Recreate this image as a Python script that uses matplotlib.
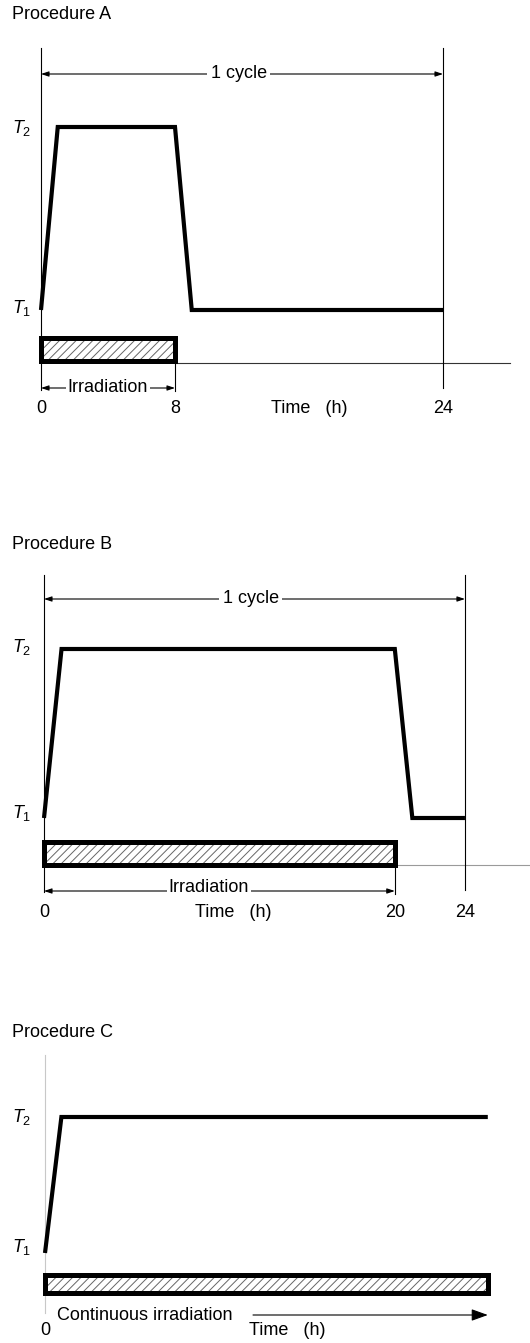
import matplotlib
matplotlib.use("Agg")
import matplotlib.pyplot as plt
from matplotlib.patches import Rectangle

plt.rcParams["font.family"] = ["Liberation Sans", "DejaVu Sans"]
plt.rcParams["mathtext.fontset"] = "custom"
plt.rcParams["mathtext.rm"] = "Liberation Sans"
plt.rcParams["mathtext.it"] = "Liberation Sans:italic"
plt.rcParams["hatch.linewidth"] = 0.7

# ---------- data ----------
T_LEVELS = [1, 2]                      # T1, T2
T_NAMES = [r"$T_{\mathrm{1}}$", r"$T_{\mathrm{2}}$"]
CYCLE_H = 24

TIME_A = [0, 1, 8, 9, 24]
TEMP_A = [1, 2, 2, 1, 1]
IRR_A = [0, 8]
TICKS_A = [0, 8, 24]

TIME_B = [0, 1, 20, 21, 24]
TEMP_B = [1, 2, 2, 1, 1]
IRR_B = [0, 20]
TICKS_B = [0, 20, 24]

TIME_C = [0, 1, 27]
TEMP_C = [1, 2, 2]
IRR_C = [0, 27]
TICKS_C = [0]

# ---------- figure ----------
W, H, DPI = 530, 1343, 100
FS = 13
THICK = 3.0
BAR_LW = 3.6
THIN = 0.8
HATCH_GRAY = "#666666"

fig = plt.figure(figsize=(W / DPI, H / DPI), dpi=DPI)
fig.patch.set_facecolor("white")


def setup(x0, ppx, y_t1, y_t2):
    """Full-figure transparent axes: x in hours, y in temperature levels."""
    ax = fig.add_axes([0, 0, 1, 1])
    ax.set_axis_off()
    ax.patch.set_alpha(0)
    s = y_t1 - y_t2
    ax.set_xlim(-x0 / ppx, (W - x0) / ppx)
    ax.set_ylim(1 - (H - y_t1) / s, 1 + y_t1 / s)
    px = lambda p: (p - x0) / ppx
    py = lambda p: 1 + (y_t1 - p) / s
    return ax, px, py


def small_arrow(ax, x1, x2, y, both=True):
    style = "<|-|>" if both else "-|>"
    ax.annotate("", xy=(x2, y), xytext=(x1, y),
                arrowprops=dict(arrowstyle=f"{style},head_length=0.45,head_width=0.15",
                                lw=THIN, color="black", shrinkA=0, shrinkB=0,
                                mutation_scale=10))


def bar(ax, x1, x2, y_top, y_bot):
    ax.add_patch(Rectangle((x1, y_bot), x2 - x1, y_top - y_bot, facecolor="white",
                           edgecolor=HATCH_GRAY, hatch="////", linewidth=0, zorder=2))
    ax.add_patch(Rectangle((x1, y_bot), x2 - x1, y_top - y_bot, fill=False,
                           edgecolor="black", linewidth=BAR_LW, joinstyle="miter", zorder=3))


def t_labels(ax, px, py, base_y):
    for name, yb in zip(T_NAMES, base_y):
        ax.text(px(12), py(yb), name, fontsize=FS, ha="left", va="baseline")


def cycle_panel(title, times, temps, irr, ticks, x0, ppx, y_t1, y_t2, lay):
    ax, px, py = setup(x0, ppx, y_t1, y_t2)
    ax.text(px(12), py(lay["title"]), title, fontsize=FS, va="baseline")

    # frame lines at 0 and 24 h
    ax.plot([0, 0], [py(lay["top"]), py(lay["left_bot"])], color="black", lw=THIN)
    ax.plot([CYCLE_H, CYCLE_H], [py(lay["top"]), py(lay["right_bot"])], color="black", lw=THIN)

    # 1 cycle
    small_arrow(ax, 0, CYCLE_H, py(lay["cyc"]))
    ax.text(CYCLE_H / 2 - 0.2, py(lay["cyc"] + 4), "1 cycle", fontsize=FS, ha="center",
            va="baseline", bbox=dict(facecolor="white", edgecolor="none", pad=2.5))

    # temperature profile
    ax.plot(times, temps, color="black", lw=THICK, solid_joinstyle="miter",
            solid_capstyle="butt", zorder=4)
    t_labels(ax, px, py, lay["tlab"])

    # irradiation bar and baseline
    bar(ax, irr[0], irr[1], py(lay["bar"][0]), py(lay["bar"][1]))
    ax.plot([irr[1], px(lay["base_end"])], [py(lay["base"]), py(lay["base"])],
            color=lay["base_color"], lw=THIN, zorder=1)
    ax.plot([irr[1], irr[1]], [py(lay["base"]), py(lay["irr"] + 3)], color="black", lw=THIN)
    small_arrow(ax, irr[0], irr[1], py(lay["irr"]))
    ax.text(lay["irr_text_at"], py(lay["irr"] + lay["irr_off"]), "Irradiation", fontsize=FS,
            ha="center", va="baseline",
            bbox=dict(facecolor="white", edgecolor="none", pad=1.5))

    # time axis labels
    for t in ticks:
        ax.text(t, py(lay["ticks"]), str(t), fontsize=FS, ha="center", va="baseline")
    ax.text(lay["time_at"], py(lay["ticks"]), "Time   (h)", fontsize=FS,
            ha="center", va="baseline")


cycle_panel("Procedure A", TIME_A, TEMP_A, IRR_A, TICKS_A,
            x0=41, ppx=16.75, y_t1=310, y_t2=127,
            lay=dict(title=19, top=48, left_bot=390, right_bot=388, cyc=74,
                     tlab=[313, 133], bar=[338, 361], base=363, base_end=510,
                     base_color="#333333", irr=388, irr_off=4, irr_text_at=4.0,
                     ticks=413, time_at=16.0))

cycle_panel("Procedure B", TIME_B, TEMP_B, IRR_B, TICKS_B,
            x0=44, ppx=17.54, y_t1=818, y_t2=649,
            lay=dict(title=549, top=575, left_bot=892, right_bot=890, cyc=599,
                     tlab=[818, 652], bar=[842, 865], base=865, base_end=530,
                     base_color="#9a9a9a", irr=891, irr_off=1, irr_text_at=9.4,
                     ticks=917, time_at=10.8))

# ---------- Procedure C ----------
ax, px, py = setup(45, 16.4, 1253, 1117)
ax.text(px(12), py(1037), "Procedure C", fontsize=FS, va="baseline")
ax.plot([0, 0], [py(1055), py(1313)], color="#c8c8c8", lw=THIN)
ax.plot(TIME_C, TEMP_C, color="black", lw=THICK, solid_joinstyle="miter",
        solid_capstyle="butt", zorder=4)
t_labels(ax, px, py, [1252, 1122])
bar(ax, IRR_C[0], IRR_C[1], py(1275), py(1293))
ax.annotate("", xy=(IRR_C[1], py(1315)), xytext=(px(253), py(1315)),
            arrowprops=dict(arrowstyle="-|>,head_length=1.0,head_width=0.36",
                            lw=THIN, color="black", shrinkA=0, shrinkB=0,
                            mutation_scale=10))
ax.text(px(57), py(1320), "Continuous irradiation", fontsize=FS, ha="left", va="baseline")
for t in TICKS_C:
    ax.text(t, py(1335), str(t), fontsize=FS, ha="center", va="baseline")
ax.text(px(287), py(1335), "Time   (h)", fontsize=FS, ha="center", va="baseline")

fig.savefig("out.png", dpi=DPI, facecolor="white")
